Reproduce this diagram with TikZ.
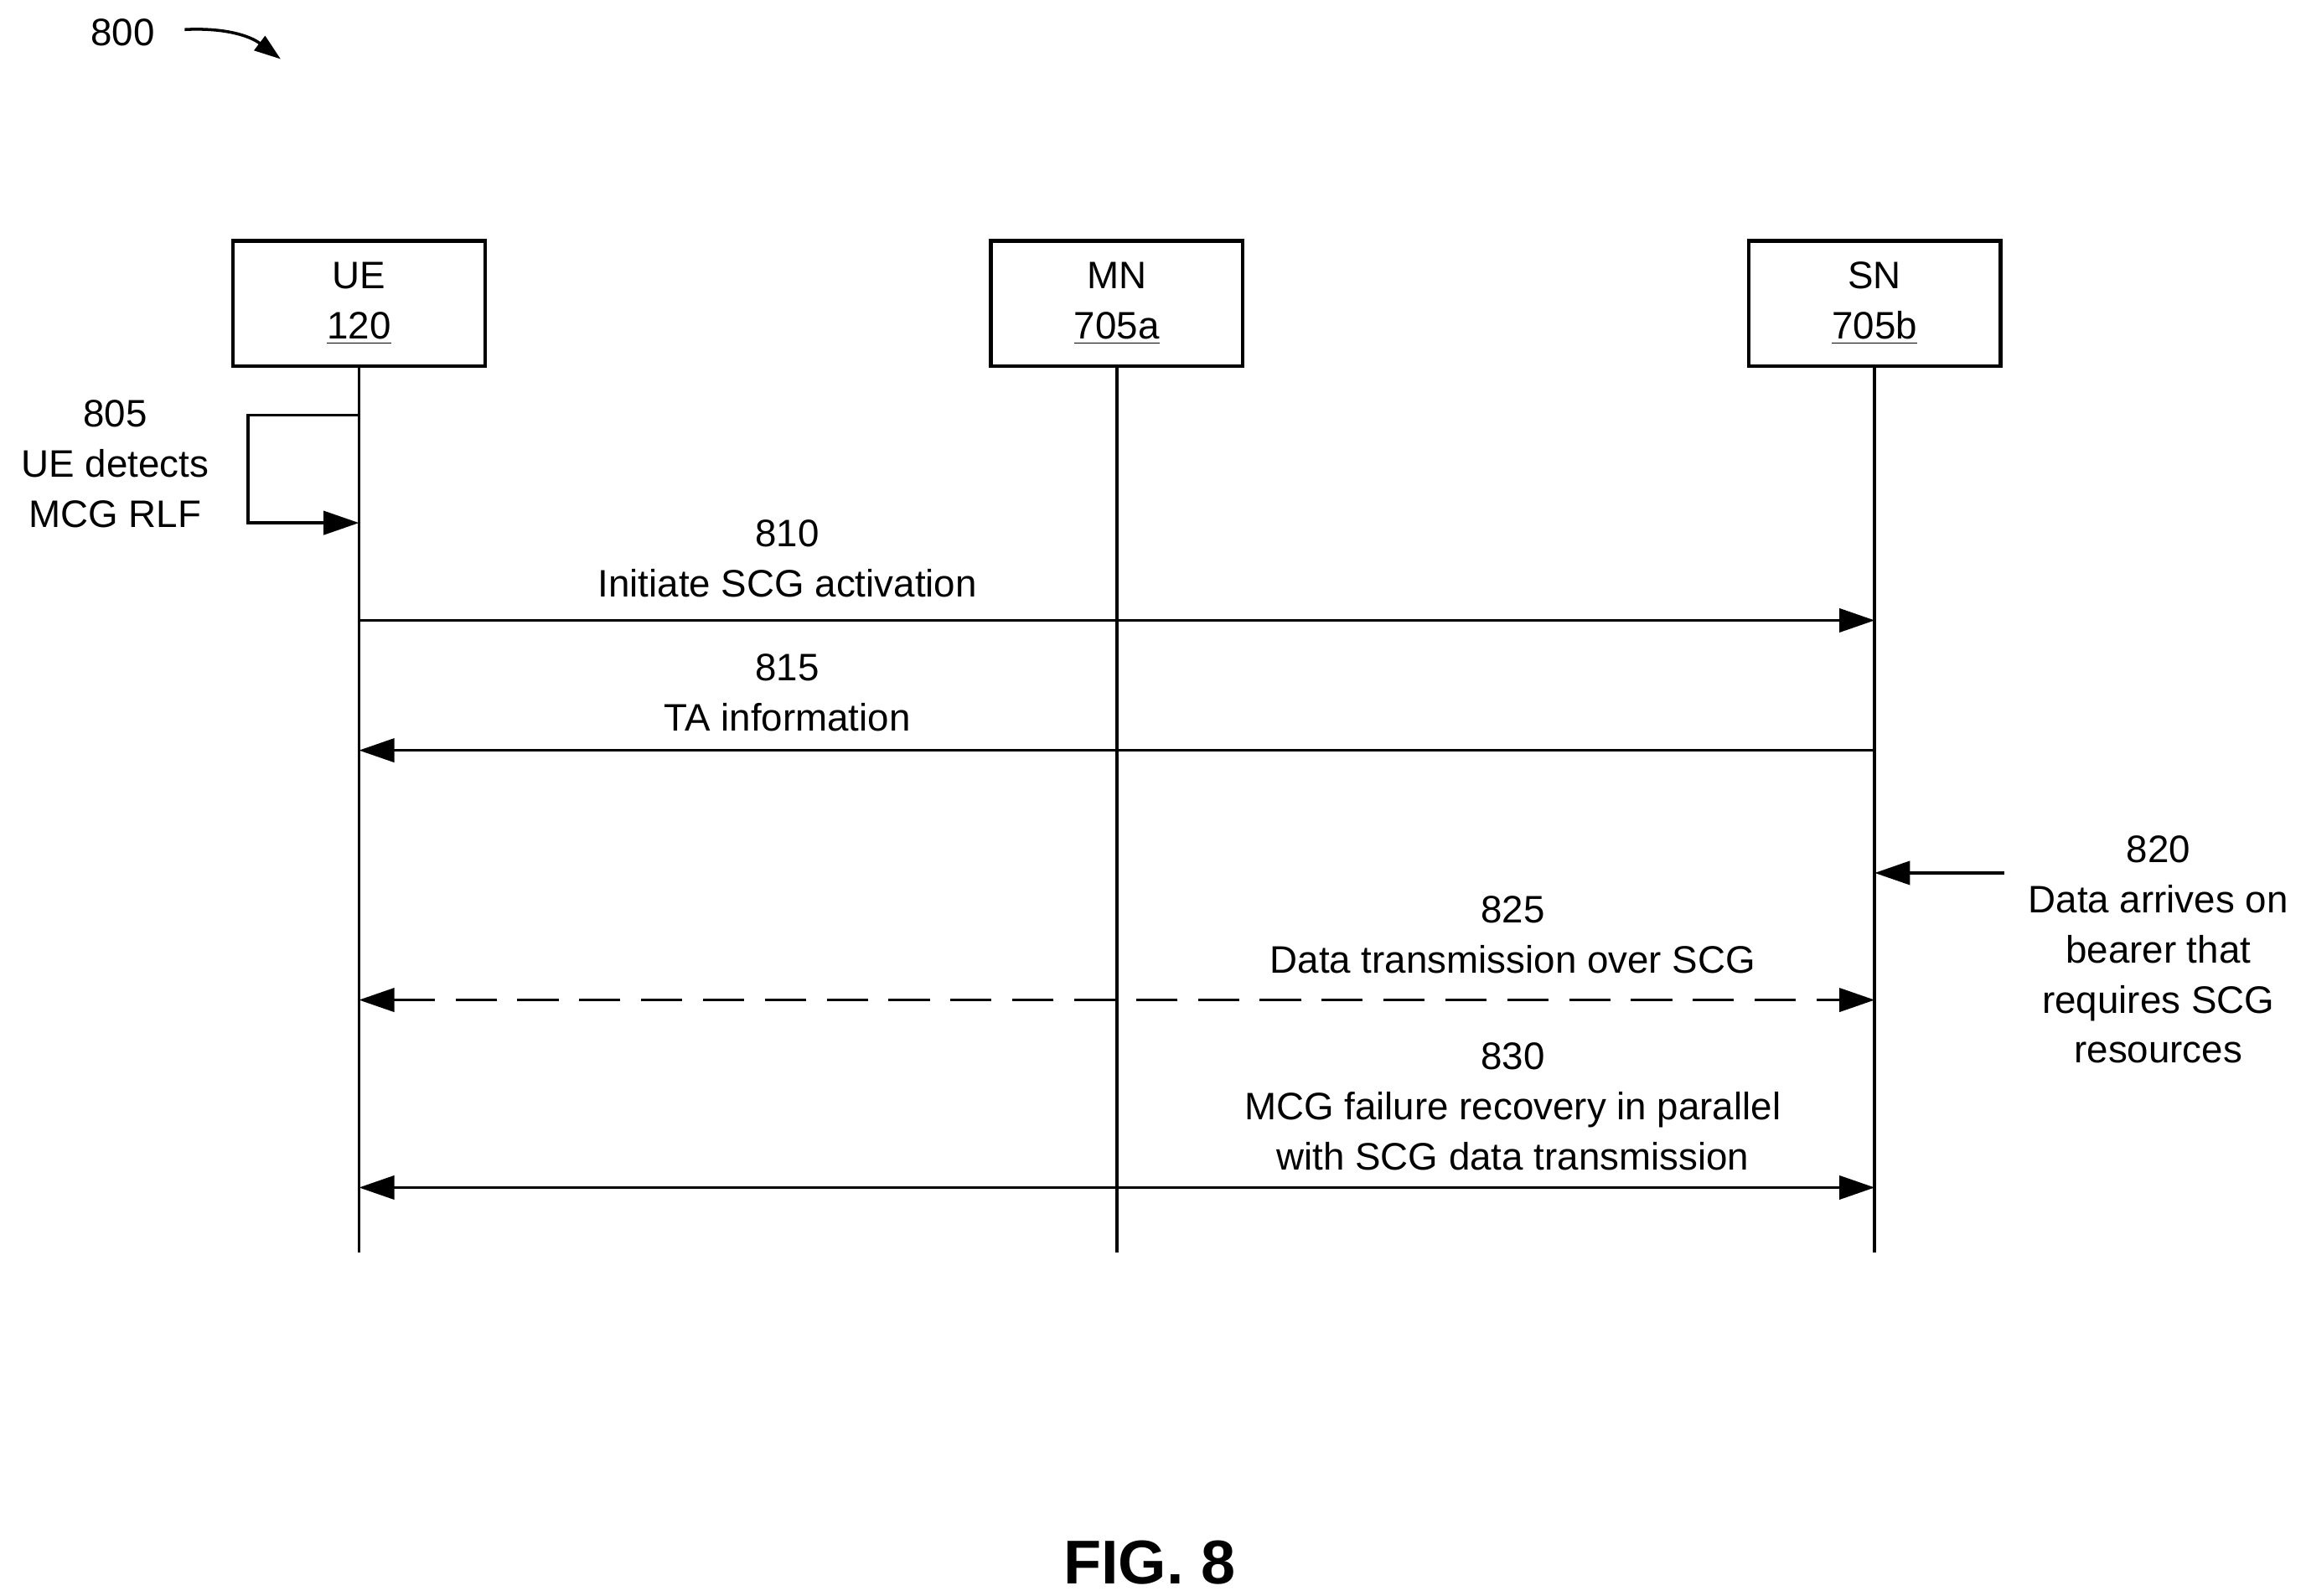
\documentclass[tikz,border=0pt]{standalone}
\usepackage{fontspec}
\setmainfont{Liberation Sans}
\usetikzlibrary{arrows.meta,positioning}
\tikzset{
  entity/.style={draw,line width=1.2pt,minimum width=85.5pt,minimum height=42.5pt,align=center,inner sep=0pt,font=\fontsize{13}{17}\selectfont},
  lbl/.style={align=center,font=\fontsize{13}{17}\selectfont},
  msg/.style={line width=1pt,-{Triangle[length=12pt,width=8pt]}},
  both/.style={line width=1pt,{Triangle[length=12pt,width=8pt]}-{Triangle[length=12pt,width=8pt]}},
  life/.style={line width=1pt}
}
\begin{document}
\begin{tikzpicture}[x=0.01763cm,y=-0.01763cm]
	\useasboundingbox (0,0) rectangle (1561,1080);
	
	\node (n800) at (83,22) {\fontsize{13}{17}\selectfont 800};
	\draw[line width=1pt,-{Triangle[length=9pt,width=6pt]}] (125,20) to[bend left=20] (190,40);
	
	\node[entity] (ue) at (243,205.5) {UE\\\underline{120}};
	\node[entity] (mn) at (756,205.5) {MN\\\underline{705a}};
	\node[entity] (sn) at (1269,205.5) {SN\\\underline{705b}};
	
	\coordinate (ueEnd) at (243,848);
	\coordinate (mnEnd) at (756,848);
	\coordinate (snEnd) at (1269,848);
	\draw[life] (ue) -- (ueEnd);
	\draw[life] (mn) -- (mnEnd);
	\draw[life] (sn) -- (snEnd);
	
	% 805
	\coordinate (l1) at (243,281);
	\coordinate (l2) at (243,354);
	\draw[msg] (l1) -- (168,281) -- (168,354) -- (l2);
	\node[lbl] (t805) at (78,314) {805\\UE detects\\MCG RLF};
	
	% 810
	\coordinate (a1) at (243,420);
	\coordinate (b1) at (1269,420);
	\draw[msg] (a1) -- (b1);
	\node[lbl] (t810) at (533,378) {810\\Initiate SCG activation};
	
	% 815
	\coordinate (a2) at (243,508);
	\coordinate (b2) at (1269,508);
	\draw[msg] (b2) -- (a2);
	\node[lbl] (t815) at (533,469) {815\\TA information};
	
	% 820
	\coordinate (c1) at (1357,591);
	\coordinate (c2) at (1269,591);
	\draw[msg] (c1) -- (c2);
	\node[lbl] (t820) at (1461,643) {820\\Data arrives on\\bearer that\\requires SCG\\resources};
	
	% 825
	\coordinate (a3) at (243,677);
	\coordinate (b3) at (1269,677);
	\draw[both,dash pattern=on 14pt off 7pt] (a3) -- (b3);
	\node[lbl] (t825) at (1024,633) {825\\Data transmission over SCG};
	
	% 830
	\coordinate (a4) at (243,804);
	\coordinate (b4) at (1269,804);
	\draw[both] (a4) -- (b4);
	\node[lbl] (t830) at (1024,749) {830\\MCG failure recovery in parallel\\with SCG data transmission};
	
	\node[font=\fontsize{21}{25}\selectfont\bfseries] (fig) at (778,1058) {FIG. 8};
\end{tikzpicture}
\end{document}
